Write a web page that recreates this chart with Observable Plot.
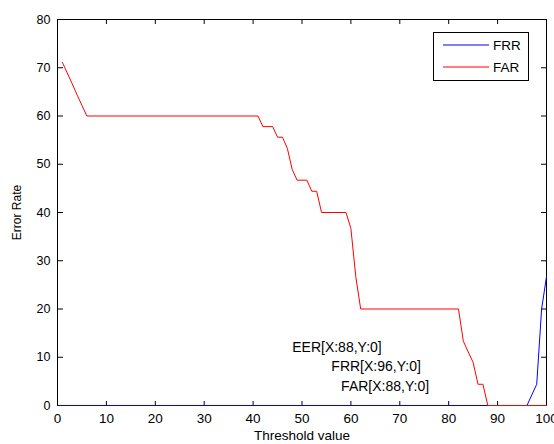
<!DOCTYPE html>
<html><head><meta charset="utf-8">
<script src="https://cdn.jsdelivr.net/npm/d3@7"></script>
<script src="https://cdn.jsdelivr.net/npm/@observablehq/plot@0.6"></script>
<style>
body{margin:0;background:#fff;}
#wrap{position:relative;width:554px;height:444px;font-family:"Liberation Sans",Arial,Helvetica,sans-serif;}
#legend{position:absolute;left:433px;top:32px;width:96px;height:49px;border:1px solid #000;background:#fff;box-sizing:border-box;}
#legend svg{display:block;}
</style></head><body><div id="wrap"></div>
<script>
// FAR (red) breakpoints
const farX = [1,2,3,4,5,6,41,42,44,45,46,47,48,49,51,52,53,54,59,60,61,62,82,83,84,85,86,87,88,100];
const farY = [71.1,68.9,66.7,64.4,62.2,60,60,57.8,57.8,55.6,55.6,53.3,48.9,46.7,46.7,44.4,44.4,40,40,36.7,26.7,20,20,13.3,11.1,8.9,4.4,4.4,0,0];
// FRR (blue) breakpoints
const frrX = [0,96,97,98,99,100];
const frrY = [0,0,2.2,4.4,20,26.7];

const xTicks = [0,10,20,30,40,50,60,70,80,90,100];
const yTicks = [0,10,20,30,40,50,60,70,80];

const annoText = ["EER[X:88,Y:0]","FRR[X:96,Y:0]","FAR[X:88,Y:0]"];
const annoX = [48,56,58];
const annoY = [12,8,4];

const seriesNames = ["FRR","FAR"];
const seriesColors = ["#0000ff","#ff0000"];

const far = farX.map((x,i)=>({x, y: farY[i]}));
const frr = frrX.map((x,i)=>({x, y: frrY[i]}));
const annos = annoText.map((t,i)=>({t, x: annoX[i], y: annoY[i]}));

const font = '"Liberation Sans",Arial,Helvetica,sans-serif';
const noText = () => "";
const chart = Plot.plot({
  width: 554, height: 444,
  marginLeft: 57, marginRight: 8, marginTop: 19, marginBottom: 39,
  style: {fontFamily: font, fontSize: "12px", background: "#fff", color: "#000", overflow: "visible"},
  x: {domain: [0,100]},
  y: {domain: [0,80]},
  marks: [
    Plot.frame({stroke: "#000"}),
    // inward ticks on all four sides
    Plot.axisX({anchor: "top", frameAnchor: "bottom", ticks: xTicks, tickSize: 5, tickFormat: noText, label: null}),
    Plot.axisX({anchor: "bottom", frameAnchor: "top", ticks: xTicks, tickSize: 5, tickFormat: noText, label: null}),
    Plot.axisY({anchor: "right", frameAnchor: "left", ticks: yTicks, tickSize: 5, tickFormat: noText, label: null}),
    Plot.axisY({anchor: "left", frameAnchor: "right", ticks: yTicks, tickSize: 5, tickFormat: noText, label: null}),
    // tick labels
    Plot.axisX({anchor: "bottom", ticks: xTicks, tickSize: 0, tickPadding: 8, fontSize: 13.5,
      label: "Threshold value", labelAnchor: "center", labelArrow: "none", labelOffset: 34}),
    Plot.axisY({anchor: "left", ticks: yTicks, tickSize: 0, tickPadding: 7, fontSize: 12.5, label: null}),
    // y title
    Plot.axisY({anchor: "left", ticks: yTicks, tickSize: 0, tickFormat: noText, fontSize: 12,
      label: "Error Rate", labelAnchor: "center", labelArrow: "none", labelOffset: 45}),
    Plot.line(frr, {x: "x", y: "y", stroke: seriesColors[0], strokeWidth: 1}),
    Plot.line(far, {x: "x", y: "y", stroke: seriesColors[1], strokeWidth: 1}),
    Plot.text(annos, {x: "x", y: "y", text: "t", textAnchor: "start", fontSize: 14, fill: "#000"})
  ]
});
const wrap = document.getElementById("wrap");
wrap.appendChild(chart);

// legend (inside the axes, top right)
const leg = document.createElement("div");
leg.id = "legend";
const ns = "http://www.w3.org/2000/svg";
const lsvg = document.createElementNS(ns, "svg");
lsvg.setAttribute("width", 94); lsvg.setAttribute("height", 47);
seriesNames.forEach((name, i) => {
  const yy = 12 + i * 22;
  const ln = document.createElementNS(ns, "line");
  ln.setAttribute("x1", 9); ln.setAttribute("x2", 55);
  ln.setAttribute("y1", yy); ln.setAttribute("y2", yy);
  ln.setAttribute("stroke", seriesColors[i]); ln.setAttribute("stroke-width", 1);
  lsvg.appendChild(ln);
  const tx = document.createElementNS(ns, "text");
  tx.setAttribute("x", 59); tx.setAttribute("y", yy);
  tx.setAttribute("dy", "0.35em");
  tx.setAttribute("font-size", "13.5px");
  tx.setAttribute("font-family", font);
  tx.setAttribute("fill", "#000");
  tx.textContent = name;
  lsvg.appendChild(tx);
});
leg.appendChild(lsvg);
wrap.appendChild(leg);
</script></body></html>
